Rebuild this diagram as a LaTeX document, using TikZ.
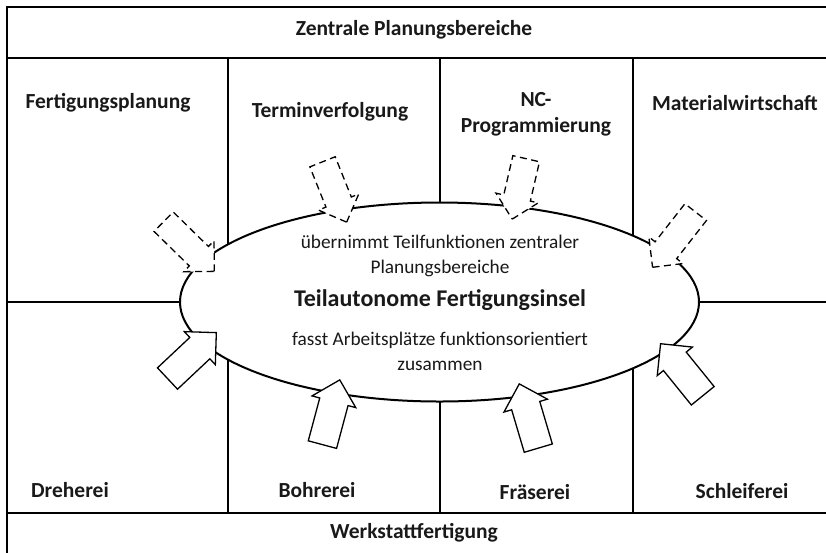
\documentclass[tikz,border=0pt]{standalone}
\usepackage{fontspec}
\setmainfont{Carlito}
\usetikzlibrary{shapes.geometric,shapes.arrows}
\tikzset{
  gridline/.style={line width=2.4pt, line cap=rect},
  lbl/.style={font=\bfseries\fontsize{21.5}{26}\selectfont, text=black!90, align=center, inner sep=0pt},
  body/.style={font=\fontsize{19.3}{25}\selectfont, text=black!90, align=center, inner sep=0pt},
  title/.style={font=\bfseries\fontsize{24}{28}\selectfont, text=black!90, inner sep=0pt},
  blockarrow/.style={single arrow, draw, fill=white, line width=1.3pt,
    inner xsep=0pt, inner ysep=14pt, single arrow head extend=8pt,
    minimum height=67pt, anchor=tip},
  dasharrow/.style={blockarrow, inner ysep=13pt, dash pattern=on 7pt off 4.5pt},
}
\begin{document}
\begin{tikzpicture}[x=1pt,y=-1pt]
\useasboundingbox (0,0) rectangle (826,552);
% frame and grid
\draw[gridline] (7,552) -- (7,7) -- (826,7);
\draw[gridline] (7,58) -- (826,58);
\draw[gridline] (7,513) -- (826,513);
\draw[gridline] (7,302) -- (826,302);
\foreach \x in {228,440,633} \draw[gridline] (\x,58) -- (\x,513);
% island
\node[ellipse, draw, fill=white, line width=2pt, inner sep=0pt,
  minimum width=519pt, minimum height=199pt] (insel) at (439.5,302) {};
% band titles
\node[lbl] (zentral) at (414,30) {Zentrale Planungsbereiche};
\node[lbl] (werkstatt) at (414,533) {Werkstattfertigung};
% planning areas
\node[lbl] (fp) at (108,103) {Fertigungsplanung};
\node[lbl] (tv) at (330,112) {Terminverfolgung};
\node[lbl] (nc) at (536,114) {NC-\\Programmierung};
\node[lbl] (mw) at (735,103) {Materialwirtschaft};
% workshops
\node[lbl] (dreh) at (70,490) {Dreherei};
\node[lbl] (bohr) at (317,490) {Bohrerei};
\node[lbl] (fraes) at (535,492) {Fräserei};
\node[lbl] (schleif) at (742,491) {Schleiferei};
% island texts
\node[body] (oben) at (440,256) {übernimmt Teilfunktionen zentraler\\Planungsbereiche};
\node[title] (insname) at (440,300) {Teilautonome Fertigungsinsel};
\node[body] (unten) at (440,351) {fasst Arbeitsplätze funktionsorientiert\\zusammen};
% functions handed over from central planning
\node[dasharrow, rotate=-44.4, minimum height=71pt] (d1) at (215,272) {};
\node[dasharrow, rotate=-68.2, minimum height=65pt] (d2) at (347,223) {};
\node[dasharrow, rotate=-103, minimum height=62pt] (d3) at (512,220) {};
\node[dasharrow, rotate=-128, minimum height=70pt] (d4) at (652,268) {};
% workplaces combined from the workshop
\node[blockarrow, rotate=43.2] (s1) at (217,332) {};
\node[blockarrow, rotate=75] (s2) at (340,379) {};
\node[blockarrow, rotate=106.5] (s3) at (519,383) {};
\node[blockarrow, rotate=129] (s4) at (660,343) {};
\end{tikzpicture}
\end{document}
